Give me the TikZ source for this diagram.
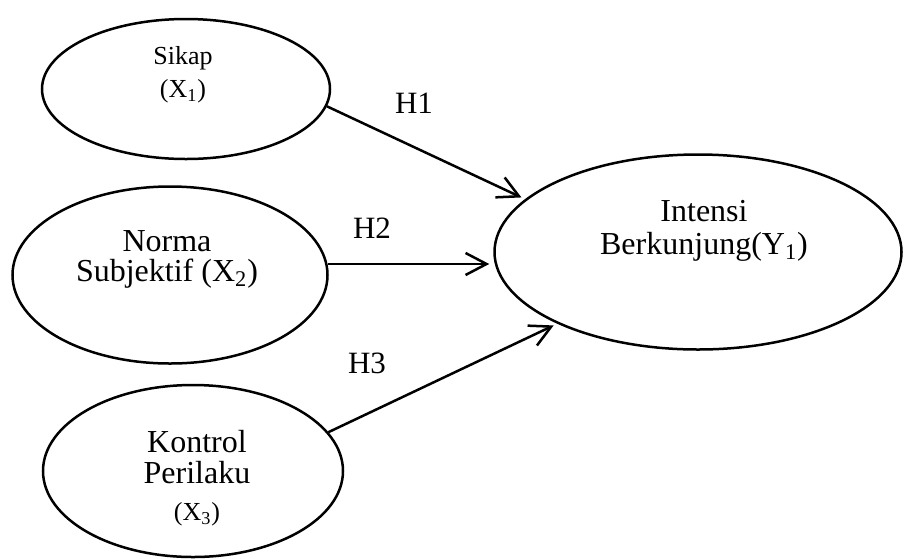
\documentclass[tikz,border=0pt]{standalone}
\usepackage{fontspec}
\setmainfont{Liberation Serif}
\usetikzlibrary{shapes.geometric,arrows.meta}

\begin{document}
\begin{tikzpicture}[x=0.5pt,y=-0.5pt,
  konstruk/.style={ellipse,draw,line width=1.25pt,inner sep=0pt},
  teks/.style={align=center,inner sep=0pt},
  hipotesis/.style={-{Straight Barb[length=10.5pt,width=11pt]},line width=1.25pt,shorten >=2pt}]
\useasboundingbox (0,0) rectangle (904,558);

% variabel X
\node[konstruk,minimum width=144pt,minimum height=70pt] (sikap) at (186,89) {};
\node[teks,font=\fontsize{13}{16.5}\selectfont] (sikaptxt) at (183,75) {Sikap\\(X\textsubscript{1})};

\node[konstruk,minimum width=157.5pt,minimum height=88.5pt] (norma) at (170,275) {};
\node[teks,font=\fontsize{16}{15}\selectfont] (normatxt) at (167,259) {Norma\\Subjektif (X\textsubscript{2})};

\node[konstruk,minimum width=150pt,minimum height=86pt] (kontrol) at (193,471) {};
\node[teks,font=\fontsize{16}{15.5}\selectfont] (kontroltxt) at (197,478) {Kontrol\\Perilaku\\[3pt]{\fontsize{13}{13}\selectfont(X\textsubscript{3})}};

% variabel Y
\node[konstruk,minimum width=203.5pt,minimum height=97.5pt] (intensi) at (698,252) {};
\node[teks,font=\fontsize{16}{16.5}\selectfont] (intensitxt) at (704,231) {Intensi\\Berkunjung(Y\textsubscript{1})};

% hipotesis
\draw[hipotesis] (sikap.-7) -- (intensi.163);
\draw[hipotesis] (norma.4) -- (norma.4 -| intensi.west);
\draw[hipotesis] (kontrol.16) -- (intensi.207);

\node[font=\fontsize{15.5}{15.5}\selectfont] (h1) at (414,103) {H1};
\node[font=\fontsize{15.5}{15.5}\selectfont] (h2) at (372,228) {H2};
\node[font=\fontsize{15.5}{15.5}\selectfont] (h3) at (367,363) {H3};

\end{tikzpicture}
\end{document}
